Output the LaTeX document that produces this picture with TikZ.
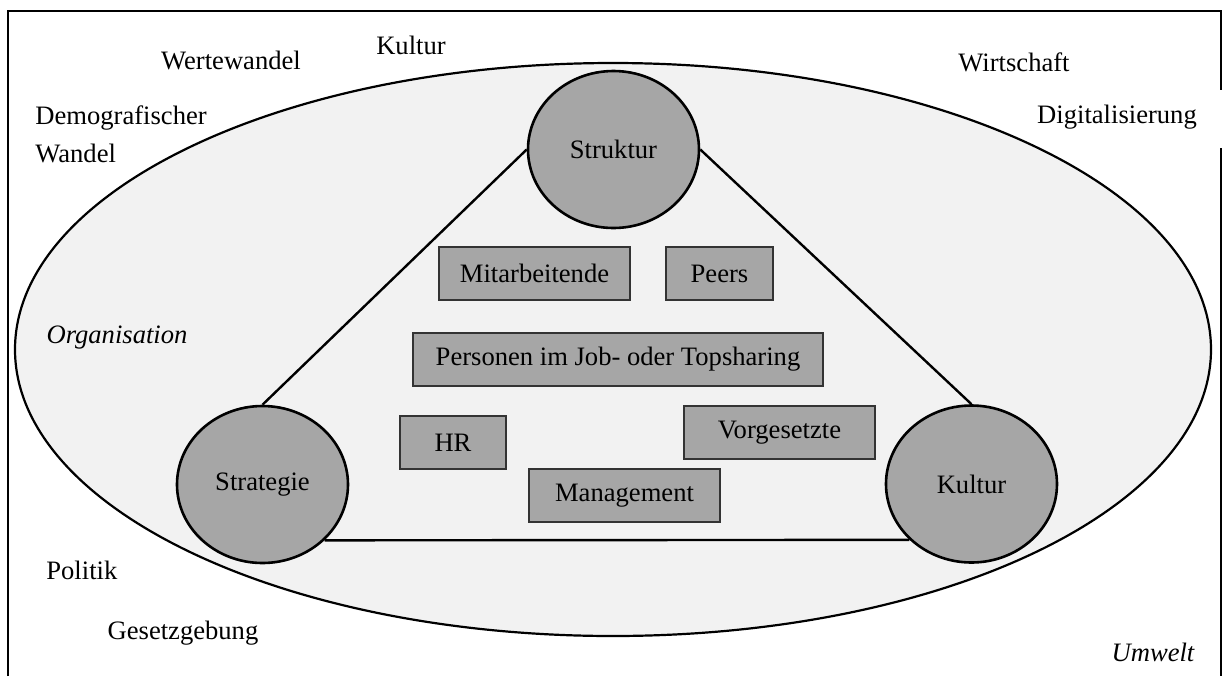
\documentclass[tikz,border=0pt]{standalone}
\usepackage{fontspec}
\setmainfont{Liberation Serif}
\usetikzlibrary{shapes.geometric}
\definecolor{orgfill}{HTML}{F2F2F2}
\definecolor{boxfill}{HTML}{A6A6A6}
\definecolor{boxline}{HTML}{333333}
\begin{document}
\begin{tikzpicture}[x=0.5pt,y=-0.5pt,
  every node/.style={font=\fontsize{13.3}{19}\selectfont, inner sep=0pt},
  pillar/.style={ellipse, draw=black, line width=1.3pt, fill=boxfill, minimum width=85.5pt, minimum height=78.5pt},
  actor/.style={rectangle, draw=boxline, line width=0.7pt, fill=boxfill, minimum height=26.5pt},
  env/.style={anchor=center},
  link/.style={draw=black, line width=1.2pt}]
\useasboundingbox (0,0) rectangle (1223,676);
% frame
\coordinate (fbl) at (8,676);
\coordinate (ftl) at (8,11);
\coordinate (ftr) at (1221,11);
\coordinate (fgap1) at (1221,90);
\coordinate (fgap2) at (1221,148);
\coordinate (fbr) at (1221,676);
\draw[line width=1pt] (fbl) -- (ftl) -- (ftr) -- (fgap1);
\draw[line width=1pt] (fgap2) -- (fbr);
% organisation ellipse
\coordinate (orgc) at (613,349.5);
\draw[line width=1.1pt, fill=orgfill] (orgc) ellipse [x radius=299pt, y radius=143.25pt];
% pillars
\node[pillar] (struktur) at (613.5,149.5) {Struktur};
\node[pillar] (strategie) at (262.5,484.5) {Strategie};
\node[pillar] (kultur) at (971.5,484) {Kultur};
\draw[link] (struktur.west) -- (strategie.north);
\draw[link] (struktur.east) -- (kultur.north);
\draw[link] (strategie.-42) -- (kultur.-138);
% actors
\node[actor, minimum width=95.5pt] (mit) at (534.5,273.5) {Mitarbeitende};
\node[actor, minimum width=53.5pt] (peers) at (719.5,273.5) {Peers};
\node[actor, minimum width=205pt] (pers) at (618,359.5) {Personen im Job- oder Topsharing};
\node[actor, minimum width=53pt] (hr) at (453,442.5) {HR};
\node[actor, minimum width=95.5pt] (vorg) at (779.5,432.5) {Vorgesetzte};
\node[actor, minimum width=95.5pt] (mgmt) at (624.5,495.5) {Management};
% labels
\node[env] (orglab) at (117,338) {\itshape Organisation};
\node[env] (umwelt) at (1153,652) {\itshape Umwelt};
\node[env] (werte) at (231,60) {Wertewandel};
\node[env] (kulturenv) at (411,45) {Kultur};
\node[env] (wirt) at (1014,62) {Wirtschaft};
\node[env] (digi) at (1117,117) {Digitalisierung};
\node[anchor=west, align=left, font=\fontsize{13.3}{19}\selectfont] (demo) at (35,134) {Demografischer\\Wandel};
\node[anchor=west] (politik) at (46,570) {Politik};
\node[env] (gesetz) at (183,633) {Gesetzgebung};
\end{tikzpicture}
\end{document}
